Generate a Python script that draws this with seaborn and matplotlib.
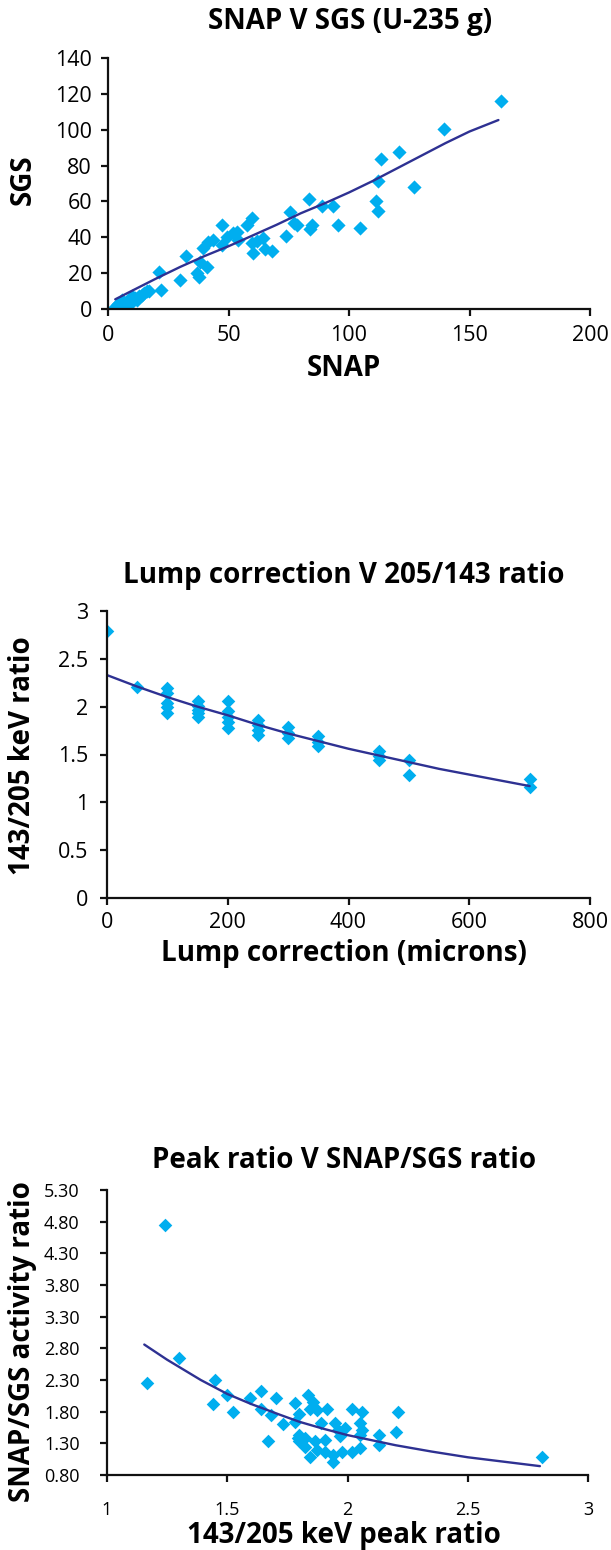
import matplotlib
matplotlib.use("Agg")
import matplotlib.pyplot as plt
import seaborn as sns

# ---------------- data ----------------
snap = [3, 4, 5, 5, 6, 7, 8, 8, 9, 10, 11, 12, 13, 14, 15, 16, 17, 6, 10, 4,
        21.2, 22, 29.9, 32.4, 36.8, 37.6, 38.2, 41, 39.5, 41.7,
        43.7, 47.2, 47.2, 49.3, 52, 53.4, 54.1, 57.5, 59.8, 59.6,
        60.3, 62, 64.5, 65, 67.9, 74, 75.4, 77, 78.4, 83.5,
        84, 84.8, 88.7, 93.5, 95.6, 104.5, 111.2, 111.9, 111.9, 113.3,
        120.9, 127, 139.4, 162.9]
sgs = [1, 0.5, 2, 3, 1, 3, 4, 2, 5, 4, 6, 5, 7, 8, 9, 10, 10, 5, 7, 3,
       20.8, 10.5, 16.3, 29.5, 19.9, 18.1, 26.4, 23.6, 33.8, 37.5,
       38.5, 46.8, 35.7, 40.4, 42.2, 43.1, 38.5, 46.8, 50.5, 36.6,
       31, 38, 39.6, 33.3, 32.5, 40.6, 54, 48, 46.8, 61.2,
       44.5, 46.6, 57.4, 57.4, 46.8, 45, 60.4, 54.8, 71.4, 83.7,
       87.7, 68.2, 100.2, 116.2]
snap_fit_x = [3, 10, 20, 30, 40, 50, 60, 70, 80, 90, 100, 110, 120, 130, 140, 150, 162]
snap_fit_y = [5.4, 10.2, 17, 23.5, 29.5, 35, 41, 47, 53.4, 59, 65, 71.5, 78.5, 85.5, 92.5, 99, 105.4]

lump = [0, 50, 100, 100, 100, 100, 100, 150, 150, 150, 150, 150,
        200, 200, 200, 200, 200, 250, 250, 250, 250, 300, 300, 300,
        350, 350, 350, 450, 450, 450, 500, 500, 700, 700]
lump_ratio = [2.79, 2.21, 2.19, 2.14, 2.04, 2.0, 1.93, 2.06, 2.01, 1.97, 1.93, 1.89,
              2.06, 1.95, 1.89, 1.84, 1.78, 1.86, 1.81, 1.76, 1.70, 1.79, 1.72, 1.67,
              1.69, 1.63, 1.59, 1.54, 1.48, 1.44, 1.44, 1.29, 1.24, 1.16]
lump_fit_x = [0, 50, 100, 150, 200, 250, 300, 350, 400, 450, 500, 550, 600, 650, 700]
lump_fit_y = [2.33, 2.21, 2.10, 2.00, 1.91, 1.81, 1.72, 1.64, 1.56, 1.49, 1.42, 1.35, 1.29, 1.23, 1.17]

peak = [1.165, 1.241, 1.30, 1.45, 1.44, 1.50, 1.525, 1.595, 1.64, 1.64, 1.68, 1.67,
        1.703, 1.73, 1.78, 1.78, 1.80, 1.837, 1.858, 1.844, 1.872, 1.913,
        1.80, 1.80, 1.823, 1.865, 1.823, 1.872, 1.844, 1.906, 1.906,
        1.948, 1.962, 1.969, 1.941, 1.941, 1.976, 2.017, 2.059, 2.052, 2.059,
        2.052, 2.017, 2.052, 2.132, 2.132, 2.209, 2.202, 2.807, 1.795, 1.89, 1.99]
activity = [2.25, 4.74, 2.65, 2.30, 1.92, 2.06, 1.80, 2.01, 2.13, 1.85, 1.75, 1.33,
            2.01, 1.60, 1.93, 1.64, 1.77, 2.06, 1.96, 1.85, 1.83, 1.85,
            1.43, 1.33, 1.38, 1.33, 1.25, 1.20, 1.08, 1.35, 1.17,
            1.62, 1.51, 1.41, 1.01, 1.12, 1.17, 1.85, 1.80, 1.62, 1.51,
            1.43, 1.17, 1.22, 1.43, 1.27, 1.80, 1.48, 1.09, 1.38, 1.62, 1.55]
peak_fit_x = [1.155, 1.25, 1.39, 1.5, 1.6, 1.72, 1.8, 1.9, 2.0, 2.1, 2.2, 2.35, 2.5, 2.65, 2.8]
peak_fit_y = [2.86, 2.62, 2.30, 2.08, 1.92, 1.75, 1.64, 1.53, 1.43, 1.35, 1.27, 1.17, 1.08, 1.01, 0.94]

top_yticks = [0, 20, 40, 60, 80, 100, 120, 140]
top_xticks = [0, 50, 100, 150, 200]
mid_yticks = [0, 0.5, 1, 1.5, 2, 2.5, 3]
mid_yticklabels = ["0", "0.5", "1", "1.5", "2", "2.5", "3"]
mid_xticks = [0, 200, 400, 600, 800]
bot_yticks = [0.80, 1.30, 1.80, 2.30, 2.80, 3.30, 3.80, 4.30, 4.80, 5.30]
bot_xticks = [1, 1.5, 2, 2.5, 3]
bot_xticklabels = ["1", "1.5", "2", "2.5", "3"]

# ---------------- style ----------------
sns.set_theme(style="ticks")
plt.rcParams['font.family'] = ['Open Sans', 'DejaVu Sans']

W, H = 611, 1550
fig = plt.figure(figsize=(W / 100, H / 100), dpi=100)

MARK = "#00AEEF"
LINE = "#2E3192"


def px_axes(x0, x1, ytop, ybot):
    return fig.add_axes([x0 / W, 1 - ybot / H, (x1 - x0) / W, (ybot - ytop) / H])


def ftext(x, y, s, size, rot=0):
    fig.text(x / W, 1 - y / H, s, ha="center", va="center", rotation=rot,
             fontsize=size, fontweight="bold", color="black")


def style(ax, tsize, xpad, ypad):
    sns.despine(ax=ax)
    for sp in ("left", "bottom"):
        ax.spines[sp].set_linewidth(1.6)
        ax.spines[sp].set_color("#111111")
    ax.tick_params(axis="both", direction="out", length=5, width=1.6,
                   color="#111111", labelsize=tsize, labelcolor="black")
    ax.tick_params(axis="x", pad=xpad)
    ax.tick_params(axis="y", pad=ypad)
    ax.set_xlabel("")
    ax.set_ylabel("")
    ax.grid(False)


# ---- top chart ----
ax1 = px_axes(108, 590, 58, 309)
sns.lineplot(x=snap_fit_x, y=snap_fit_y, ax=ax1, color=LINE, lw=1.7, sort=False, estimator=None)
sns.scatterplot(x=snap, y=sgs, ax=ax1, marker="D", s=52, color=MARK, linewidth=0, zorder=1)
ax1.set_xlim(0, 200)
ax1.set_ylim(0, 140)
ax1.set_xticks(top_xticks)
ax1.set_yticks(top_yticks)
style(ax1, 15.5, 6.4, 6.5)
ftext(350, 22, "SNAP V SGS (U-235 g)", 20)
ftext(23, 180, "SGS", 20, 90)
ftext(344, 368, "SNAP", 20)

# ---- middle chart ----
ax2 = px_axes(107, 590, 611, 898)
sns.lineplot(x=lump_fit_x, y=lump_fit_y, ax=ax2, color=LINE, lw=1.7, sort=False, estimator=None)
sns.scatterplot(x=lump, y=lump_ratio, ax=ax2, marker="D", s=48, color=MARK, linewidth=0, zorder=1)
ax2.set_xlim(0, 800)
ax2.set_ylim(0, 3)
ax2.set_xticks(mid_xticks)
ax2.set_yticks(mid_yticks)
ax2.set_yticklabels(mid_yticklabels)
style(ax2, 15.5, 5, 8.6)
ftext(344, 575, "Lump correction V 205/143 ratio", 20)
ftext(23, 756, "143/205 keV ratio", 20, 90)
ftext(344, 953, "Lump correction (microns)", 20)

# ---- bottom chart ----
ax3 = px_axes(107, 588, 1190, 1475)
sns.lineplot(x=peak_fit_x, y=peak_fit_y, ax=ax3, color=LINE, lw=1.7, sort=False, estimator=None)
sns.scatterplot(x=peak, y=activity, ax=ax3, marker="D", s=48, color=MARK, linewidth=0, zorder=1)
ax3.set_xlim(1, 3)
ax3.set_ylim(0.8, 5.3)
ax3.set_xticks(bot_xticks)
ax3.set_xticklabels(bot_xticklabels)
ax3.set_yticks(bot_yticks)
ax3.set_yticklabels([f"{v:.2f}" for v in bot_yticks])
style(ax3, 13, 14, 14.7)
ftext(344, 1160, "Peak ratio V SNAP/SGS ratio", 20)
ftext(23, 1342, "SNAP/SGS activity ratio", 20, 90)
ftext(344, 1536, "143/205 keV peak ratio", 20)

fig.savefig("out.png", dpi=100)
